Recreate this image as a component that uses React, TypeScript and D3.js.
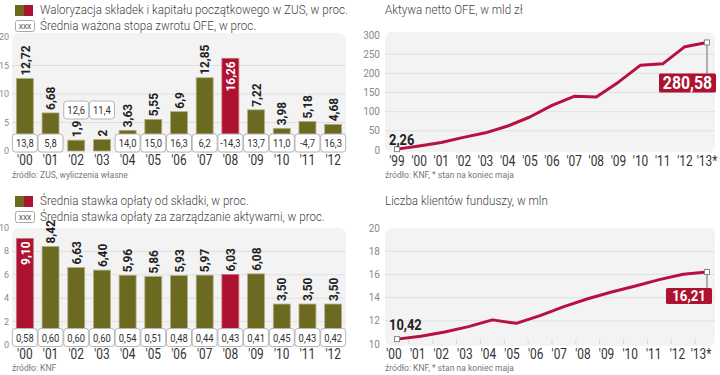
import React from "react";
import * as d3 from "d3";

// ---------- data ----------
const barYears = ["'00", "'01", "'02", "'03", "'04", "'05", "'06", "'07", "'08", "'09", "'10", "'11", "'12"];
const zusIndexation = [12.72, 6.68, 1.9, 2, 3.63, 5.55, 6.9, 12.85, 16.26, 7.22, 3.98, 5.18, 4.68];
const ofeReturn = [13.8, 5.8, 12.6, 11.4, 14.0, 15.0, 16.3, 6.2, -14.3, 13.7, 11.0, -4.7, 16.3];
const zusHighlight = ["'08"];
const zusTicks = [0, 5, 10, 15, 20];

const contributionFee = [9.1, 8.42, 6.63, 6.4, 5.96, 5.86, 5.93, 5.97, 6.03, 6.08, 3.5, 3.5, 3.5];
const managementFee = [0.58, 0.6, 0.6, 0.6, 0.54, 0.51, 0.48, 0.44, 0.43, 0.41, 0.45, 0.43, 0.42];
const feeHighlight = ["'00", "'08"];
const feeTicks = [0, 2, 4, 6, 8, 10];

const assetYears = ["'99", "'00", "'01", "'02", "'03", "'04", "'05", "'06", "'07", "'08", "'09", "'10", "'11", "'12", "'13"];
const netAssets = [2.26, 10.4, 19.6, 32.9, 44.8, 62.6, 86.1, 116.6, 140.0, 138.3, 177.0, 221.3, 224.7, 269.6, 280.58];
const assetTicks = [0, 50, 100, 150, 200, 250, 300];

const clientYears = ["'00", "'01", "'02", "'03", "'04", "'05", "'06", "'07", "'08", "'09", "'10", "'11", "'12", "'13"];
const clients = [10.42, 10.66, 11.03, 11.5, 12.08, 11.78, 12.45, 13.22, 13.9, 14.48, 15.0, 15.55, 16.02, 16.21];
const clientTicks = [10, 12, 14, 16, 18, 20];

// ---------- style ----------
const FONT = "Roboto, 'Noto Sans', sans-serif";
const GREEN = "#6c6a21";
const RED = "#ad1230";
const LINE = "#b7123f";
const BG = "#f3f3f3";
const GRID = "#e0e0e0";

const fmt = (v: number, d?: number) => (d == null ? String(v) : v.toFixed(d)).replace(".", ",");

// condensed text helper: scales glyphs horizontally
function T({ x, y, sx = 0.85, rot = 0, children, ...rest }: any) {
  const tf = `translate(${x},${y})${rot ? ` rotate(${rot})` : ""} scale(${sx},1)`;
  return (
    <text transform={tf} {...rest}>
      {children}
    </text>
  );
}

type BarProps = {
  values: number[];
  boxes: number[];
  valueDigits?: number;
  boxDigits: number;
  highlight: string[];
  ticks: number[];
  zeroY: number;
  topY: number;
  bgTop: number;
  bgBottom: number;
  boxY: number;
  raisedBoxY: number;
  yearY: number;
  legendY: number;
  legend1: string;
  legend2: string;
  source: string;
  sourceY: number;
};

function BarPanel(p: BarProps) {
  const yMax = p.ticks[p.ticks.length - 1];
  const x = d3.scaleBand<string>().domain(barYears).range([12, 346]).paddingInner(0.34).paddingOuter(0.17);
  const y = d3.scaleLinear().domain([0, yMax]).range([p.zeroY, p.topY]);
  const bw = x.bandwidth();
  const bxW = 25, bxH = 18;
  return (
    <g fontFamily={FONT}>
      {/* legend */}
      <rect x={15} y={p.legendY - 9} width={9} height={11} fill={GREEN} />
      <rect x={24} y={p.legendY - 9} width={9} height={11} fill={RED} />
      <T x={40} y={p.legendY} sx={0.93} fontSize={12.5} fontWeight={300} fill="#444">{p.legend1}</T>
      <rect x={15.5} y={p.legendY + 6.5} width={19} height={11} rx={2} fill="#fff" stroke="#aaa" />
      <T x={25} y={p.legendY + 15} sx={0.9} fontSize={7.5} fill="#444" textAnchor="middle">XXX</T>
      <T x={40} y={p.legendY + 16} sx={0.93} fontSize={12.5} fontWeight={300} fill="#444">{p.legend2}</T>

      {/* plot background */}
      <rect x={12} y={p.bgTop} width={334} height={p.bgBottom - p.bgTop} rx={7} fill={BG} />
      {p.ticks.slice(1, -1).map((t) => (
        <line key={t} x1={12} x2={346} y1={y(t)} y2={y(t)} stroke={GRID} />
      ))}
      {p.ticks.map((t) => (
        <T key={t} x={9} y={y(t) + 3} sx={1} fontSize={9} fill="#8a8a8a" textAnchor="end">{t}</T>
      ))}

      {/* bars */}
      {barYears.map((yr, i) => {
        const v = p.values[i];
        const red = p.highlight.includes(yr);
        const cx = (x(yr) as number) + bw / 2;
        const top = y(v);
        const inside = red && v / yMax > 0.75;
        return (
          <g key={yr}>
            <rect x={x(yr)} y={top} width={bw} height={p.zeroY - top} fill={red ? RED : GREEN} stroke={red ? "#c9707f" : "#b2ae86"} strokeWidth={0.8} />
            <T
              x={cx + 4.7}
              y={inside ? top + 3 : top - 3}
              rot={-90}
              sx={0.88}
              textAnchor={inside ? "end" : "start"}
              fontSize={13.5}
              fontWeight="bold"
              fill={inside ? "#fff" : "#222"}
            >
              {fmt(v, p.valueDigits)}
            </T>
          </g>
        );
      })}

      {/* boxes */}
      {barYears.map((yr, i) => {
        const cx = (x(yr) as number) + bw / 2;
        const cy = p.values[i] < 3 ? p.raisedBoxY : p.boxY;
        return (
          <g key={yr}>
            <rect x={cx - bxW / 2} y={cy - bxH / 2} width={bxW} height={bxH} rx={3} fill="#fff" stroke="#b5b5b5" />
            <T x={cx} y={cy + 4} sx={0.82} fontSize={11.5} fill="#333" textAnchor="middle">{fmt(p.boxes[i], p.boxDigits)}</T>
          </g>
        );
      })}

      {/* year labels */}
      {barYears.map((yr) => (
        <T key={yr} x={(x(yr) as number) + bw / 2} y={p.yearY} fontSize={14} fill="#333" textAnchor="middle">{yr}</T>
      ))}
      <T x={12} y={p.sourceY} sx={0.9} fontSize={9.5} fill="#777">{p.source}</T>
    </g>
  );
}

type LineProps = {
  years: string[];
  values: number[];
  ticks: number[];
  title: string;
  titleY: number;
  zeroY: number;
  topY: number;
  bgTop: number;
  bgBottom: number;
  yearY: number;
  labelXs: [number, number];
  startLabel: string;
  endLabel: string;
  startLabelDy: number;
  endBox: { dx: number; dy: number; w: number; h: number; fs: number };
  source: string;
  sourceY: number;
  minorTicks?: boolean;
};

function LinePanel(p: LineProps) {
  const x = d3.scalePoint<string>().domain(p.years).range([397, 707]);
  const xl = d3.scalePoint<string>().domain(p.years).range(p.labelXs);
  const y = d3.scaleLinear().domain([p.ticks[0], p.ticks[p.ticks.length - 1]]).range([p.zeroY, p.topY]);
  const pts: [number, number][] = p.years.map((yr, i) => [x(yr) as number, y(p.values[i])]);
  const path = d3.line()(pts) as string;
  const [sx, sy] = pts[0];
  const [ex, ey] = pts[pts.length - 1];
  const b = p.endBox;
  const last = p.years.length - 1;
  return (
    <g fontFamily={FONT}>
      <T x={385} y={p.titleY} sx={0.93} fontSize={12.5} fontWeight={300} fill="#444">{p.title}</T>
      <rect x={385} y={p.bgTop} width={330} height={p.bgBottom - p.bgTop} rx={7} fill={BG} />
      {p.ticks.slice(1, -1).map((t) => (
        <line key={t} x1={385} x2={715} y1={y(t)} y2={y(t)} stroke={GRID} />
      ))}
      {p.minorTicks &&
        p.years.slice(0, -1).map((yr, i) => {
          const mx = ((x(yr) as number) + (x(p.years[i + 1]) as number)) / 2;
          return <line key={yr} x1={mx} x2={mx} y1={p.zeroY - 5} y2={p.zeroY} stroke="#d8d8d8" />;
        })}
      {p.ticks.map((t) => (
        <T key={t} x={380} y={y(t) + 3.5} sx={1} fontSize={10} fill="#8a8a8a" textAnchor="end">{t}</T>
      ))}
      <path d={path} fill="none" stroke={LINE} strokeWidth={3} strokeLinejoin="round" strokeLinecap="round" />
      <line x1={ex} x2={ex} y1={ey} y2={ey + b.dy} stroke="#999" strokeWidth={1.5} />
      <rect x={sx - 2.5} y={sy - 2.5} width={5} height={5} fill="#fff" stroke="#888" />
      <rect x={ex - 2.5} y={ey - 2.5} width={5} height={5} fill="#fff" stroke="#888" />
      <T x={sx - 8} y={sy + p.startLabelDy} sx={0.86} fontSize={15} fontWeight="bold" fill="#222">{p.startLabel}</T>
      <rect x={ex + b.dx} y={ey + b.dy} width={b.w} height={b.h} rx={1.5} fill={RED} />
      <T x={ex + b.dx + b.w / 2} y={ey + b.dy + b.h / 2 + b.fs * 0.36} sx={0.88} fontSize={b.fs} fontWeight="bold" fill="#fff" textAnchor="middle">{p.endLabel}</T>
      {p.years.map((yr, i) => (
        <T key={yr} x={xl(yr)} y={p.yearY} fontSize={14} fill="#333" textAnchor="middle">
          {yr}
          {i === last ? "*" : null}
        </T>
      ))}
      <T x={385} y={p.sourceY} sx={0.9} fontSize={9.5} fill="#777">{p.source}</T>
    </g>
  );
}

export default function App() {
  return (
    <svg width={720} height={375} style={{ position: "absolute", left: 0, top: 0, background: "#fff" }}>
      <BarPanel
        values={zusIndexation}
        boxes={ofeReturn}
        boxDigits={1}
        highlight={zusHighlight}
        ticks={zusTicks}
        zeroY={151}
        topY={37}
        bgTop={33}
        bgBottom={153}
        boxY={143}
        raisedBoxY={110}
        yearY={165}
        legendY={14}
        legend1="Waloryzacja składek i kapitału początkowego w ZUS, w proc."
        legend2="Średnia ważona stopa zwrotu OFE, w proc."
        source="źródło: ZUS, wyliczenia własne"
        sourceY={178}
      />
      <BarPanel
        values={contributionFee}
        valueDigits={2}
        boxes={managementFee}
        boxDigits={2}
        highlight={feeHighlight}
        ticks={feeTicks}
        zeroY={345}
        topY={228}
        bgTop={228}
        bgBottom={347}
        boxY={337.5}
        raisedBoxY={337.5}
        yearY={359}
        legendY={205}
        legend1="Średnia stawka opłaty od składki, w proc."
        legend2="Średnia stawka opłaty za zarządzanie aktywami, w proc."
        source="źródło: KNF"
        sourceY={371}
      />
      <LinePanel
        years={assetYears}
        values={netAssets}
        ticks={assetTicks}
        title="Aktywa netto OFE, w mld zł"
        titleY={14}
        zeroY={150}
        topY={35}
        bgTop={32}
        bgBottom={152}
        yearY={166}
        labelXs={[397, 707]}
        startLabel="2,26"
        startLabelDy={-4}
        endLabel="280,58"
        endBox={{ dx: -48, dy: 31, w: 57, h: 19, fs: 18 }}
        source="źródło: KNF, * stan na koniec maja"
        sourceY={178}
      />
      <LinePanel
        years={clientYears}
        values={clients}
        ticks={clientTicks}
        title="Liczba klientów funduszy, w mln"
        titleY={205}
        zeroY={344}
        topY={228}
        bgTop={228}
        bgBottom={346}
        yearY={359}
        labelXs={[394, 701]}
        startLabel="10,42"
        startLabelDy={-9}
        endLabel="16,21"
        endBox={{ dx: -41, dy: 16, w: 46, h: 16, fs: 15 }}
        source="źródło: KNF, * stan na koniec maja"
        sourceY={371}
        minorTicks
      />
    </svg>
  );
}
